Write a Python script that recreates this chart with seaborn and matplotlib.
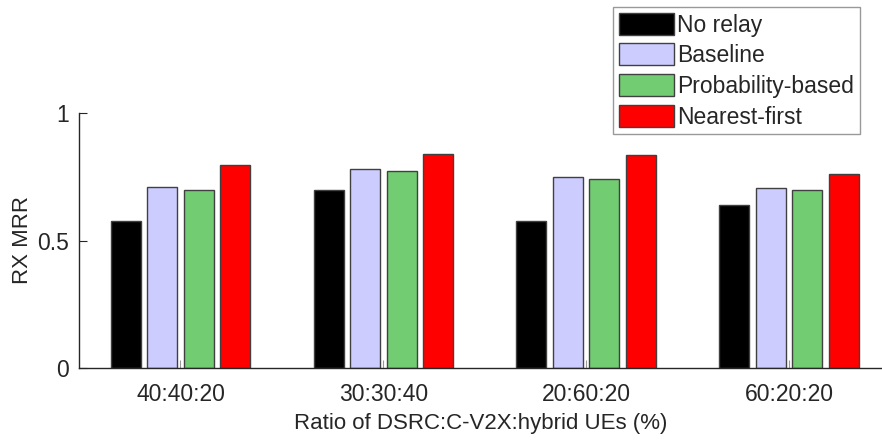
import matplotlib
matplotlib.use("Agg")
import matplotlib.pyplot as plt
import pandas as pd
import seaborn as sns

# Receiver message reception ratio for each UE mix and relay scheme
ratios = ["40:40:20", "30:30:40", "20:60:20", "60:20:20"]
schemes = ["No relay", "Baseline", "Probability-based", "Nearest-first"]
no_relay = [0.575, 0.700, 0.576, 0.639]
baseline = [0.711, 0.779, 0.749, 0.707]
probability_based = [0.697, 0.772, 0.741, 0.699]
nearest_first = [0.795, 0.839, 0.836, 0.761]
colors = ["#000000", "#CCCCFF", "#72CC72", "#FF0000"]

series = [no_relay, baseline, probability_based, nearest_first]
rows = []
for name, vals in zip(schemes, series):
    for r, v in zip(ratios, vals):
        rows.append({"ratio": r, "scheme": name, "mrr": v})
df = pd.DataFrame(rows)

sns.set_style("white")
plt.rcParams["font.family"] = ["Liberation Sans", "DejaVu Sans"]

W, H = 882, 443
fig = plt.figure(figsize=(W / 100, H / 100), dpi=100)
ax = fig.add_axes([79 / W, 1 - 368 / H, (W - 79) / W, (368 - 113) / H])

sns.barplot(data=df, x="ratio", y="mrr", hue="scheme", order=ratios,
            hue_order=schemes, palette=colors, saturation=1, width=0.72,
            gap=0.18, edgecolor="#404040", linewidth=1.0, errorbar=None,
            ax=ax, legend=True, zorder=2)

ax.set_xlim(-0.5, 3.458)
ax.set_ylim(0, 1)
ax.set_yticks([0, 0.5, 1])
ax.set_yticklabels(["0", "0.5", "1"])
ax.set_xlabel("Ratio of DSRC:C-V2X:hybrid UEs (%)", fontsize=16, labelpad=5, color="#262626")
ax.set_ylabel("RX MRR", fontsize=16, labelpad=3, color="#262626")

for side in ["top", "right"]:
    ax.spines[side].set_visible(False)
for side in ["left", "bottom"]:
    ax.spines[side].set_color("#262626")
    ax.spines[side].set_linewidth(1.0)

ax.tick_params(axis="y", direction="in", length=6, width=0.8, color="#262626",
               labelsize=16.5, labelcolor="#262626", pad=7, left=True)
ax.tick_params(axis="x", direction="in", length=6, width=0.8, color="#999999",
               labelsize=16.5, labelcolor="#262626", pad=11, bottom=True)

handles, labels = ax.get_legend_handles_labels()
ax.get_legend().remove()
leg = fig.legend(handles, labels, loc="upper left",
                 bbox_to_anchor=(613 / W, 1 - 7 / H), fontsize=16.5,
                 frameon=True, fancybox=False, edgecolor="#808080",
                 handlelength=2.4, handleheight=1.1, handletextpad=0.15,
                 labelspacing=0.3, borderpad=0.25, borderaxespad=0)
leg.get_frame().set_linewidth(1.0)

fig.savefig("out.png", dpi=100)
